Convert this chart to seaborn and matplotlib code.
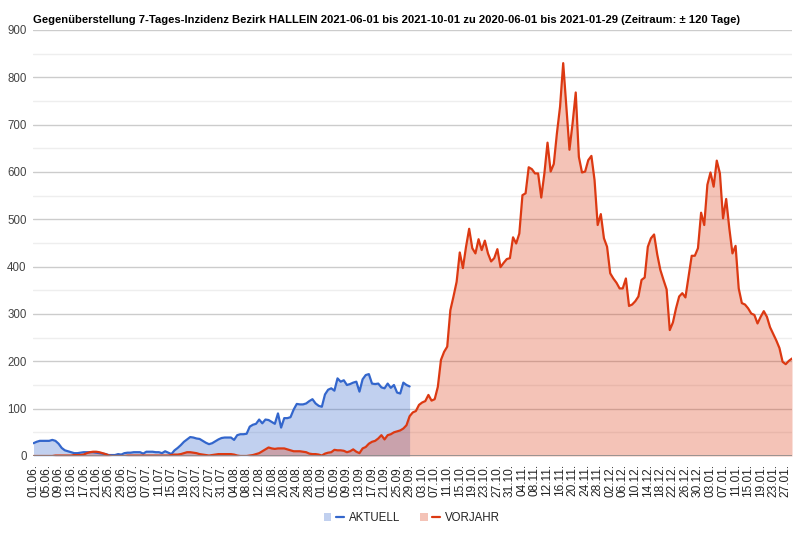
import numpy as np
import pandas as pd
import matplotlib
matplotlib.use("Agg")
import matplotlib.pyplot as plt
import seaborn as sns
from matplotlib.lines import Line2D
from matplotlib.patches import Patch
from matplotlib.legend_handler import HandlerTuple

# ---------------- data ----------------
start_date = "2020-06-01"
series_names = ["AKTUELL", "VORJAHR"]

aktuell = [
    27, 30, 32, 32, 32, 32, 34, 32, 26, 17,
    12, 10, 8, 6, 6, 7, 8, 8, 8, 8,
    7, 6, 5, 4, 2, 2, 2, 4, 3, 6,
    7, 7, 8, 8, 8, 5, 9, 9, 9, 8,
    8, 6, 10, 7, 4, 12, 17, 23, 30, 35,
    40, 39, 37, 36, 32, 28, 25, 27, 31, 35,
    38, 39, 39, 39, 34, 44, 46, 46, 47, 62,
    66, 68, 77, 69, 77, 76, 72, 68, 90, 60,
    80, 80, 82, 98, 110, 109, 109, 111, 116, 120,
    111, 106, 104, 130, 140, 143, 138, 164, 157, 160,
    150, 152, 155, 157, 136, 162, 171, 173, 153, 152,
    153, 145, 143, 153, 144, 150, 134, 132, 155, 150,
    147,
]

vorjahr = [
    0, 0, 0, 0, 0, 0, 0, 1, 1, 1,
    1, 1, 1, 2, 2, 2, 3, 6, 8, 9,
    9, 8, 6, 4, 1, 0, 0, 0, 0, 0,
    1, 1, 1, 1, 1, 1, 1, 1, 1, 1,
    1, 1, 1, 1, 2, 3, 3, 4, 6, 8,
    8, 7, 6, 4, 3, 2, 1, 2, 3, 4,
    4, 4, 4, 4, 3, 1, 0, 0, 0, 1,
    2, 4, 6, 10, 14, 18, 16, 15, 16, 16,
    16, 14, 12, 10, 10, 10, 9, 8, 5, 4,
    4, 3, 1, 5, 7, 8, 13, 12, 12, 11,
    8, 10, 14, 9, 6, 16, 19, 26, 30, 32,
    37, 44, 35, 44, 46, 50, 52, 54, 58, 65,
    84, 92, 95, 108, 113, 116, 129, 117, 120, 146,
    203, 220, 231, 308, 337, 368, 430, 397, 442, 480,
    439, 428, 458, 435, 455, 428, 411, 418, 437, 399,
    408, 416, 418, 462, 449, 470, 551, 555, 610, 606,
    597, 597, 546, 597, 662, 601, 617, 682, 738, 830,
    738, 647, 703, 768, 632, 599, 601, 625, 634, 583,
    488, 511, 460, 442, 386, 375, 366, 354, 354, 375,
    317, 320, 327, 337, 372, 377, 442, 460, 468, 426,
    393, 372, 352, 266, 282, 312, 337, 344, 335, 379,
    423, 423, 439, 514, 488, 573, 599, 569, 624, 597,
    502, 543, 481, 428, 444, 354, 323, 320, 312, 301,
    298, 280, 294, 306, 294, 272, 258, 244, 228, 199,
    194, 201, 206,
]

y_ticks = [0, 100, 200, 300, 400, 500, 600, 700, 800, 900]
y_minor = [50, 150, 250, 350, 450, 550, 650, 750, 850]
tick_every_days = 4
title = ("Gegenüberstellung 7-Tages-Inzidenz Bezirk HALLEIN 2021-06-01 bis "
         "2021-10-01 zu 2020-06-01 bis 2021-01-29 (Zeitraum: ± 120 Tage)")

colors = {"AKTUELL": "#3366cc", "VORJAHR": "#dc3912"}

# ---------------- frame ----------------
n = len(vorjahr)
dates = pd.date_range(start_date, periods=n, freq="D")
df = pd.DataFrame({"tag": np.arange(n), "VORJAHR": vorjahr})
df["AKTUELL"] = pd.Series(aktuell, dtype=float)
long = df.melt(id_vars="tag", value_vars=series_names,
               var_name="Serie", value_name="Inzidenz").dropna()

# ---------------- plot ----------------
sns.set_style("white")
plt.rcParams["font.family"] = ["Liberation Sans", "DejaVu Sans"]

W, H = 803, 537
fig = plt.figure(figsize=(W / 100, H / 100), dpi=100)
ax = fig.add_axes([33.5 / W, 81 / H, 758.5 / W, 426 / H])

for yv in y_minor:
    ax.axhline(yv, color="#eeeeee", lw=1, zorder=0)
for yv in y_ticks[1:]:
    ax.axhline(yv, color="#cccccc", lw=1, zorder=0)

for s in series_names:
    sub = long[long["Serie"] == s]
    ax.fill_between(sub["tag"], 0, sub["Inzidenz"], color=colors[s],
                    alpha=0.3, lw=0, zorder=1)

sns.lineplot(data=long, x="tag", y="Inzidenz", hue="Serie",
             hue_order=series_names, palette=colors, linewidth=1.6,
             ax=ax, legend=False, zorder=3)

ax.axhline(0, color="#8a8a8a", lw=1.2, zorder=4)

ax.set_xlim(0, n - 1)
ax.set_ylim(0, 900)
ax.set_yticks(y_ticks)
ax.set_yticklabels([str(v) for v in y_ticks], fontsize=8.3, color="#444444")
xt = df["tag"].values[::tick_every_days]
ax.set_xticks(xt)
ax.set_xticklabels(dates[::tick_every_days].strftime("%d.%m."),
                   rotation=90, fontsize=8.6, color="#222222")
ax.tick_params(axis="both", length=0)
ax.tick_params(axis="x", pad=6)
ax.tick_params(axis="y", pad=5)
ax.set_xlabel("")
ax.set_ylabel("")
for sp in ax.spines.values():
    sp.set_visible(False)

fig.text(33 / W, 1 - 20 / H, title, fontsize=8.15, fontweight="bold",
         color="#000000", ha="left", va="center")

handles = [(Patch(facecolor=colors[s], alpha=0.3, lw=0),
            Line2D([0], [0], color=colors[s], lw=1.6)) for s in series_names]
fig.legend(handles, series_names, handler_map={tuple: HandlerTuple(ndivide=None)},
           loc="center", bbox_to_anchor=(412 / W, 1 - 518 / H), ncol=2,
           frameon=False, fontsize=8.3, handlelength=1.75, columnspacing=1.7,
           handletextpad=0.45, labelcolor="#222222")

fig.savefig("out.png", dpi=100)
